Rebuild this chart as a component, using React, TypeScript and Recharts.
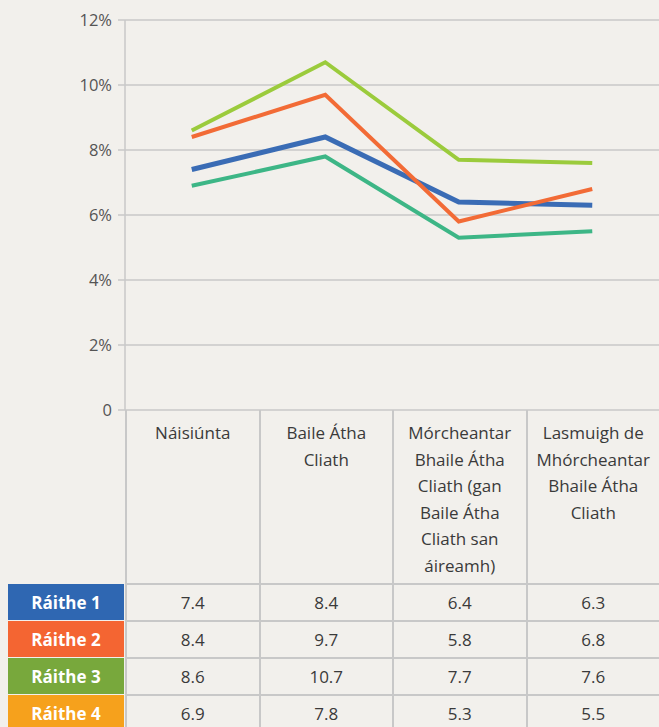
import { LineChart, Line, XAxis, YAxis, CartesianGrid } from 'recharts'

const categories = [
  'Náisiúnta',
  'Baile Átha Cliath',
  'Mórcheantar Bhaile Átha Cliath (gan Baile Átha Cliath san áireamh)',
  'Lasmuigh de Mhórcheantar Bhaile Átha Cliath',
]

// how the category names wrap in the table header
const headerLines = [
  ['Náisiúnta'],
  ['Baile Átha', 'Cliath'],
  ['Mórcheantar', 'Bhaile Átha', 'Cliath (gan', 'Baile Átha', 'Cliath san', 'áireamh)'],
  ['Lasmuigh de', 'Mhórcheantar', 'Bhaile Átha', 'Cliath'],
]

const seriesNames = ['Ráithe 1', 'Ráithe 2', 'Ráithe 3', 'Ráithe 4']
const raithe1 = [7.4, 8.4, 6.4, 6.3]
const raithe2 = [8.4, 9.7, 5.8, 6.8]
const raithe3 = [8.6, 10.7, 7.7, 7.6]
const raithe4 = [6.9, 7.8, 5.3, 5.5]
const yTicks = [0, 2, 4, 6, 8, 10, 12]

const seriesValues = [raithe1, raithe2, raithe3, raithe4]
const lineColors = ['#3a6cb5', '#f26b36', '#9bcb3c', '#3db686']
const lineWidths = [5, 4, 4, 4]
const labelColors = ['#2f67b2', '#f46532', '#78a83c', '#f6a11c']

const data = categories.map((name, i) => ({
  name,
  r1: raithe1[i],
  r2: raithe2[i],
  r3: raithe3[i],
  r4: raithe4[i],
}))

const BG = '#f2f0ec'
const GRID = '#c8c8c8'
const FONT = '"Open Sans", "Noto Sans", sans-serif'

const colLeft = 125
const colWidth = 133.5
const headerTop = 410
const headerHeight = 173
const rowHeight = 37

export default function App() {
  return (
    <div
      style={{
        position: 'absolute',
        left: 0,
        top: 0,
        width: 659,
        height: 727,
        overflow: 'hidden',
        backgroundColor: BG,
        fontFamily: FONT,
      }}
    >
      <LineChart
        width={659}
        height={424}
        data={data}
        margin={{ top: 20, right: 0, bottom: 14, left: 0 }}
      >
        <CartesianGrid vertical={false} stroke={GRID} strokeWidth={1.5} />
        <XAxis dataKey="name" scale="band" hide />
        <YAxis
          width={125}
          domain={[0, 12]}
          ticks={yTicks}
          interval={0}
          tickFormatter={(v) => (v === 0 ? '0' : `${v}%`)}
          axisLine={{ stroke: GRID, strokeWidth: 1.5 }}
          tickLine={{ stroke: GRID, strokeWidth: 1.5 }}
          tickSize={7}
          tickMargin={6}
          tick={{ fill: '#555555', fontSize: 16.5, fontFamily: FONT }}
        />
        {['r1', 'r2', 'r3', 'r4'].map((key, i) => (
          <Line
            key={key}
            dataKey={key}
            name={seriesNames[i]}
            type="linear"
            stroke={lineColors[i]}
            strokeWidth={lineWidths[i]}
            dot={false}
            activeDot={false}
            isAnimationActive={false}
          />
        ))}
      </LineChart>

      {/* header cells of the data table */}
      {headerLines.map((lines, i) => (
        <div
          key={`h${i}`}
          style={{
            position: 'absolute',
            left: colLeft + i * colWidth,
            top: headerTop,
            width: colWidth,
            height: headerHeight,
            borderLeft: `2px solid ${GRID}`,
            boxSizing: 'border-box',
            paddingTop: 10,
            textAlign: 'center',
            fontSize: 17,
            lineHeight: '26.5px',
            color: '#3a3a3a',
          }}
        >
          {lines.map((l, j) => (
            <div key={j}>{l}</div>
          ))}
        </div>
      ))}

      {/* data rows */}
      {seriesNames.map((s, r) => (
        <div key={s}>
          <div
            style={{
              position: 'absolute',
              left: 8,
              top: headerTop + headerHeight + r * rowHeight + 1,
              width: 116,
              height: rowHeight - 1,
              backgroundColor: labelColors[r],
              color: '#ffffff',
              fontWeight: 700,
              fontSize: 17,
              display: 'flex',
              alignItems: 'center',
              justifyContent: 'center',
            }}
          >
            {s}
          </div>
          {seriesValues[r].map((v, i) => (
            <div
              key={i}
              style={{
                position: 'absolute',
                left: colLeft + i * colWidth,
                top: headerTop + headerHeight + r * rowHeight,
                width: colWidth,
                height: rowHeight,
                borderLeft: `2px solid ${GRID}`,
                borderTop: `2px solid ${GRID}`,
                boxSizing: 'border-box',
                display: 'flex',
                alignItems: 'center',
                justifyContent: 'center',
                fontSize: 17,
                color: '#3a3a3a',
              }}
            >
              {v.toFixed(1)}
            </div>
          ))}
        </div>
      ))}
    </div>
  )
}
